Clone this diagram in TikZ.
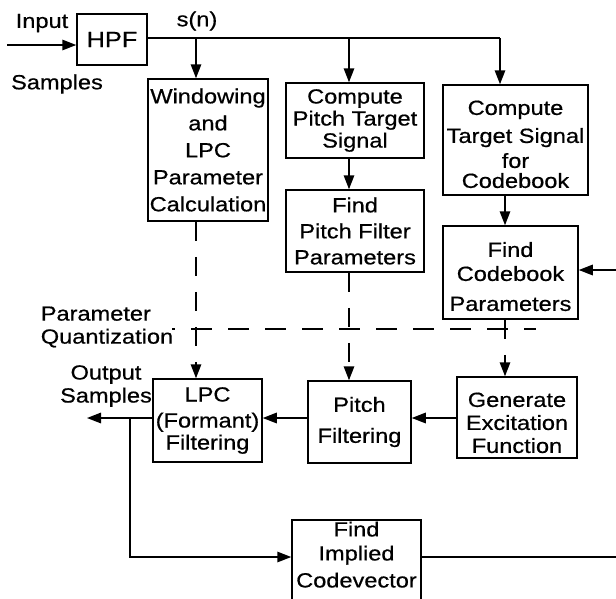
\documentclass[tikz,border=0pt]{standalone}
\usepackage{fontspec}
\setmainfont{Liberation Sans}[FakeStretch=1.15,FakeBold=0.6]
\usepackage{tikz}
\usetikzlibrary{arrows.meta}

\begin{document}
\begin{tikzpicture}[x=1pt,y=-1pt,
    block/.style={draw,line width=1.5pt,inner sep=0pt,align=center,
        font=\fontsize{20.5}{26}\selectfont},
    lbl/.style={inner sep=0pt,align=center,font=\fontsize{20.5}{23}\selectfont},
    arr/.style={line width=1.5pt,-{Triangle[length=14pt,width=10.5pt]}},
    dasharr/.style={arr,dash pattern=on 19pt off 16pt},
    line width=1.5pt]
        \clip (0,0) rectangle (616,598);

        % blocks
        \node[block,minimum width=70pt,minimum height=51pt,
            font=\fontsize{22}{26}\selectfont] (hpf) at (112,39.5) {HPF};
        \node[block,minimum width=120pt,minimum height=142pt,
            font=\fontsize{20.5}{27}\selectfont] (win) at (208,150)
            {Windowing\\and\\LPC\\Parameter\\Calculation};
        \node[block,minimum width=138pt,minimum height=75pt,
            font=\fontsize{20.5}{22}\selectfont] (cpt) at (355,120.5) {Compute\\Pitch Target\\Signal};
        \node[block,minimum width=138pt,minimum height=82pt] (fpf) at (355,231)
            {Find\\Pitch Filter\\Parameters};
        \node[block,minimum width=145pt,minimum height=110pt,
            font=\fontsize{20.5}{24}\selectfont] (cts) at (515.5,140)
            {\rule{0pt}{23pt}Compute\\[4pt]Target Signal\\[1pt]for\\[-4pt]Codebook};
        \node[block,minimum width=135pt,minimum height=93pt,
            font=\fontsize{20.5}{24}\selectfont] (fcp) at (510.5,272.5)
            {\rule{0pt}{23pt}Find\\Codebook\\[6pt]Parameters};
        \node[block,minimum width=109pt,minimum height=83pt] (lpc) at (207.5,420.5)
            {LPC\\(Formant)\\[-4pt]Filtering};
        \node[block,minimum width=103pt,minimum height=82pt] (pf) at (359.5,422)
            {Pitch\\[5pt]Filtering};
        \node[block,minimum width=120pt,minimum height=81pt,
            font=\fontsize{20.5}{23}\selectfont] (gef) at (517,417.5)
            {\rule{0pt}{25pt}Generate\\Excitation\\Function};
        \node[block,minimum width=129pt,minimum height=85pt,
            font=\fontsize{20.5}{24}\selectfont] (fic) at (356.5,562.5)
            {Find\\Implied\\[3pt]Codevector\rule[-16pt]{0pt}{16pt}};

        % labels
        \node[lbl] (inlbl) at (42,23) {Input};
        \node[lbl] (smplbl) at (57,84) {Samples};
        \node[lbl] (snlbl) at (197,21) {s(n)};
        \node[lbl,align=left] (pqlbl) at (107,327) {Parameter\\Quantization};
        \node[lbl] (outlbl) at (106,386) {Output\\Samples};

        % points on the signal paths
        \coordinate (in) at (7,45);
        \coordinate (b1) at (196,38);
        \coordinate (b2) at (349,38);
        \coordinate (b3) at (500,38);
        \coordinate (b4) at (505,38);
        \coordinate (fb) at (616,270);
        \coordinate (out) at (87,418);
        \coordinate (tap) at (130,418);
        \coordinate (fb2) at (616,557);
        \coordinate (qa) at (172,329);
        \coordinate (qb) at (536,329);

        % analysis side
        \draw[arr] (in) -- (in -| hpf.west);
        \draw (b1 -| hpf.east) -- (b3);
        \draw[arr] (b1) -- (b1 |- win.north);
        \draw[arr] (b2) -- (b2 |- cpt.north);
        \draw[arr] (b3) -- (b3 |- cts.north);
        \draw[arr] (b2 |- cpt.south) -- (b2 |- fpf.north);
        \draw[arr] (b4 |- cts.south) -- (b4 |- fcp.north);
        \draw[arr] (fb) -- (fb -| fcp.east);

        % parameter quantization
        \draw[dash pattern=on 21pt off 16pt,dash phase=18pt] (qa) -- (qb);
        \draw[dasharr] (b1 |- win.south) -- (b1 |- lpc.north);
        \draw[dasharr] (b2 |- fpf.south) -- (b2 |- pf.north);
        \draw[dasharr] (b4 |- fcp.south) -- (b4 |- gef.north);

        % synthesis side
        \draw[arr] (out -| gef.west) -- (out -| pf.east);
        \draw[arr] (out -| pf.west) -- (out -| lpc.east);
        \draw[arr] (out -| lpc.west) -- (out);
        \draw[arr] (tap) |- (fb2 -| fic.west);
        \draw (fb2 -| fic.east) -- (fb2);
    \end{tikzpicture}
\end{document}
